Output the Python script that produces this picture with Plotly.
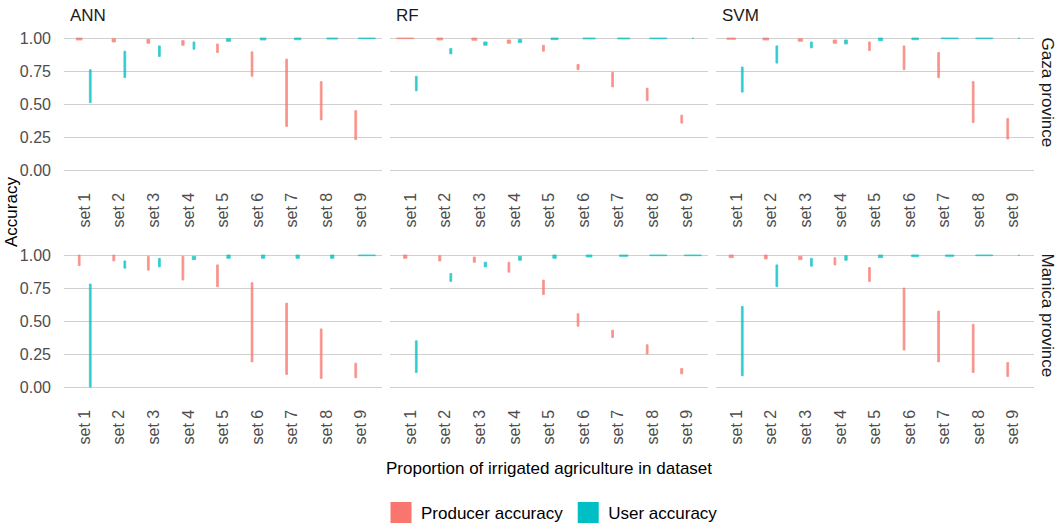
import plotly.graph_objects as go

sets = ["set 1", "set 2", "set 3", "set 4", "set 5", "set 6", "set 7", "set 8", "set 9"]
models = ["ANN", "RF", "SVM"]
provinces = ["Gaza province", "Manica province"]
series_names = ["Producer accuracy", "User accuracy"]

# ---- Gaza province: [low, high] accuracy per set ----
ann_gaza_prod_lo = [0.985, 0.970, 0.960, 0.945, 0.890, 0.710, 0.330, 0.380, 0.230]
ann_gaza_prod_hi = [1.000, 0.995, 0.990, 0.980, 0.955, 0.895, 0.840, 0.670, 0.450]
ann_gaza_user_lo = [0.510, 0.700, 0.860, 0.915, 0.975, 0.985, 0.987, 0.992, 0.995]
ann_gaza_user_hi = [0.760, 0.900, 0.940, 0.970, 0.995, 1.000, 1.000, 1.000, 1.000]

rf_gaza_prod_lo = [0.995, 0.985, 0.983, 0.960, 0.900, 0.760, 0.630, 0.525, 0.355]
rf_gaza_prod_hi = [1.000, 1.000, 1.000, 0.985, 0.945, 0.800, 0.740, 0.620, 0.415]
rf_gaza_user_lo = [0.600, 0.880, 0.945, 0.965, 0.988, 0.993, 0.993, 0.995, 1.000]
rf_gaza_user_hi = [0.710, 0.920, 0.970, 0.990, 1.000, 1.000, 1.000, 1.000, 1.000]

svm_gaza_prod_lo = [0.990, 0.985, 0.975, 0.960, 0.905, 0.760, 0.700, 0.360, 0.235]
svm_gaza_prod_hi = [1.000, 1.000, 0.995, 0.985, 0.970, 0.940, 0.890, 0.670, 0.390]
svm_gaza_user_lo = [0.590, 0.810, 0.925, 0.955, 0.980, 0.987, 0.995, 0.995, 1.000]
svm_gaza_user_hi = [0.780, 0.940, 0.970, 0.985, 1.000, 1.000, 1.000, 1.000, 1.000]

# ---- Manica province ----
ann_man_prod_lo = [0.920, 0.955, 0.885, 0.810, 0.760, 0.190, 0.095, 0.065, 0.070]
ann_man_prod_hi = [1.000, 1.000, 0.990, 0.990, 0.925, 0.790, 0.635, 0.440, 0.180]
ann_man_user_lo = [0.000, 0.900, 0.910, 0.965, 0.975, 0.975, 0.975, 0.975, 0.995]
ann_man_user_hi = [0.780, 0.955, 0.975, 0.990, 1.000, 1.000, 1.000, 1.000, 1.000]

rf_man_prod_lo = [0.975, 0.955, 0.945, 0.870, 0.700, 0.460, 0.375, 0.250, 0.100]
rf_man_prod_hi = [1.000, 0.995, 0.985, 0.945, 0.810, 0.555, 0.430, 0.320, 0.140]
rf_man_user_lo = [0.110, 0.800, 0.910, 0.960, 0.975, 0.985, 0.990, 0.995, 0.995]
rf_man_user_hi = [0.350, 0.860, 0.945, 0.990, 1.000, 1.000, 1.000, 1.000, 1.000]

svm_man_prod_lo = [0.980, 0.970, 0.965, 0.925, 0.800, 0.280, 0.190, 0.110, 0.080]
svm_man_prod_hi = [1.000, 1.000, 0.990, 0.980, 0.905, 0.750, 0.575, 0.475, 0.185]
svm_man_user_lo = [0.085, 0.760, 0.915, 0.960, 0.980, 0.988, 0.990, 0.995, 1.000]
svm_man_user_hi = [0.610, 0.925, 0.975, 0.995, 1.000, 1.000, 1.000, 1.000, 1.000]

y_tick_vals = [0.0, 0.25, 0.5, 0.75, 1.0]
y_tick_text = ["0.00", "0.25", "0.50", "0.75", "1.00"]

data = {
    ("ANN", "Gaza province"): [(ann_gaza_prod_lo, ann_gaza_prod_hi), (ann_gaza_user_lo, ann_gaza_user_hi)],
    ("RF", "Gaza province"): [(rf_gaza_prod_lo, rf_gaza_prod_hi), (rf_gaza_user_lo, rf_gaza_user_hi)],
    ("SVM", "Gaza province"): [(svm_gaza_prod_lo, svm_gaza_prod_hi), (svm_gaza_user_lo, svm_gaza_user_hi)],
    ("ANN", "Manica province"): [(ann_man_prod_lo, ann_man_prod_hi), (ann_man_user_lo, ann_man_user_hi)],
    ("RF", "Manica province"): [(rf_man_prod_lo, rf_man_prod_hi), (rf_man_user_lo, rf_man_user_hi)],
    ("SVM", "Manica province"): [(svm_man_prod_lo, svm_man_prod_hi), (svm_man_user_lo, svm_man_user_hi)],
}

# ---- styling / layout ----
W, H = 1059, 525
colors = ["#F8766D", "#00BFC4"]
dodge = [-0.16, 0.16]
FONT = "Liberation Sans, Arial, Helvetica, sans-serif"
grid_col = "#D0D0D0"

col_px = [(64, 382), (390, 708), (716, 1034)]
row_px = [(31.4, 176.6), (248.4, 393.6)]
strip_y_px = [92.5, 315.5]
x_range = [0.4, 9.6]
units_per_px = (x_range[1] - x_range[0]) / (col_px[0][1] - col_px[0][0])


def px_x(p):
    return p / W


def px_y(p):
    return 1 - p / H


def widths(lo, hi):
    out = []
    for a, b in zip(lo, hi):
        r = b - a
        if r <= 0:
            wpx = 1.2
        else:
            wpx = min(max(0.085 / r, 1.8), 17.0)
        out.append(wpx * units_per_px)
    return out


fig = go.Figure()
positions = list(range(1, len(sets) + 1))

for ri, prov in enumerate(provinces):
    for ci, mod in enumerate(models):
        idx = ri * 3 + ci + 1
        xa = "x" if idx == 1 else f"x{idx}"
        ya = "y" if idx == 1 else f"y{idx}"
        for si, (lo, hi) in enumerate(data[(mod, prov)]):
            w = widths(lo, hi)
            heights = [max(b - a, 0.004) for a, b in zip(lo, hi)]
            bases = [b - h for b, h in zip(hi, heights)]
            fig.add_trace(go.Bar(
                x=positions,
                y=heights,
                base=bases,
                width=w,
                offset=[dodge[si] - ww / 2 for ww in w],
                marker=dict(color=colors[si], line=dict(color=colors[si], width=0.8)),
                opacity=0.8,
                name=series_names[si],
                showlegend=False,
                xaxis=xa, yaxis=ya,
            ))
        x0, x1 = col_px[ci]
        y0, y1 = row_px[ri]
        fig.layout[f"xaxis{'' if idx == 1 else idx}"] = dict(
            domain=[px_x(x0), px_x(x1)], range=x_range, anchor=ya,
            tickvals=positions, ticktext=sets, tickangle=-90,
            showgrid=False, zeroline=False, showline=False, ticks="",
            ticklabelstandoff=12, automargin=False,
            tickfont=dict(size=16, color="#4D4D4D", family=FONT),
        )
        fig.layout[f"yaxis{'' if idx == 1 else idx}"] = dict(
            domain=[px_y(y1), px_y(y0)], range=[-0.05, 1.05], anchor=xa,
            tickvals=y_tick_vals, ticktext=y_tick_text,
            showticklabels=(ci == 0),
            showgrid=True, gridcolor=grid_col, gridwidth=1.4,
            zeroline=False, showline=False, ticks="",
            ticklabelstandoff=12, automargin=False,
            tickfont=dict(size=16, color="#4D4D4D", family=FONT),
        )

# legend entries (large square keys)
for si, name in enumerate(series_names):
    fig.add_trace(go.Scatter(
        x=[None], y=[None], mode="markers", name=name,
        marker=dict(symbol="square", size=16, color=colors[si],
                    line=dict(color=colors[si], width=5)),
        showlegend=True, xaxis="x", yaxis="y",
    ))

annotations = []
for ci, mod in enumerate(models):
    annotations.append(dict(text=mod, x=px_x(col_px[ci][0] + 4), y=px_y(15), xref="paper", yref="paper",
                            xanchor="left", yanchor="middle", showarrow=False,
                            font=dict(size=17, color="#1A1A1A", family=FONT)))
for ri, prov in enumerate(provinces):
    annotations.append(dict(text=prov, x=px_x(1047), y=px_y(strip_y_px[ri]),
                            xref="paper", yref="paper", xanchor="center", yanchor="middle",
                            textangle=90, showarrow=False,
                            font=dict(size=17, color="#1A1A1A", family=FONT)))
annotations.append(dict(text="Accuracy", x=px_x(11), y=px_y(212), xref="paper", yref="paper",
                        xanchor="center", yanchor="middle", textangle=-90, showarrow=False,
                        font=dict(size=17, color="#000000", family=FONT)))
annotations.append(dict(text="Proportion of irrigated agriculture in dataset", x=px_x(549), y=px_y(468),
                        xref="paper", yref="paper", xanchor="center", yanchor="middle", showarrow=False,
                        font=dict(size=17, color="#000000", family=FONT)))

fig.update_layout(
    width=W, height=H,
    margin=dict(l=0, r=0, t=0, b=0, autoexpand=False),
    paper_bgcolor="white", plot_bgcolor="white",
    barmode="overlay",
    annotations=annotations,
    showlegend=True,
    legend=dict(orientation="h", x=px_x(552), xanchor="center", y=px_y(513), yanchor="middle",
                font=dict(size=17, color="#000000", family=FONT),
                traceorder="normal", itemwidth=30),
    font=dict(family=FONT),
)

fig.write_html("out.html", config={"displayModeBar": False},
               post_script="document.body.style.margin='0';document.body.style.padding='0';"
                           "document.body.style.overflow='hidden';")
